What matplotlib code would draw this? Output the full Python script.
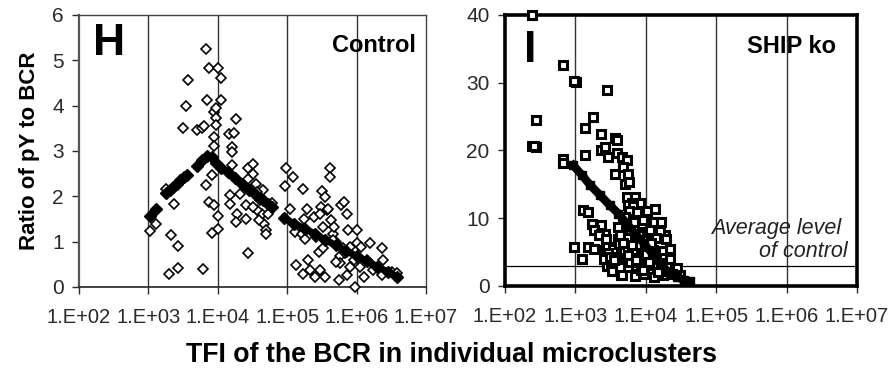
import numpy as np
import matplotlib
matplotlib.use('Agg')
import matplotlib.pyplot as plt

plt.rcParams['font.family'] = ['Liberation Sans', 'DejaVu Sans']

# ---- panel H (control): raw points, log10 of TFI and ratio
ctrl_logx = [3.02, 3.11, 3.30, 3.32, 3.37, 3.43, 3.43, 3.26, 3.57, 3.54, 3.50, 3.70, 3.77, 3.80,
             3.84, 3.83, 3.88, 4.00, 4.04, 4.04, 3.94, 3.97, 3.97, 3.97, 3.94, 3.95, 3.92, 3.83,
             3.88, 3.94, 4.00, 4.00, 3.92, 3.78, 4.43, 4.16, 4.24, 4.26, 4.21, 4.21, 4.20, 4.18,
             4.18, 4.27, 4.26, 4.41, 4.32, 4.40, 4.43, 4.50, 4.50, 4.49, 4.55, 4.61, 4.65, 4.63,
             4.56, 4.66, 4.70, 4.69, 4.60, 4.73, 4.78, 4.51, 4.57, 4.44,
             4.98, 5.08, 4.97, 5.04, 5.23, 5.11, 5.12, 5.21, 5.26, 5.28, 5.24, 5.30, 5.23, 5.33,
             5.38, 5.40, 5.42, 5.46, 5.49, 5.50, 5.47, 5.54, 5.57, 5.59, 5.52, 5.51, 5.54, 5.47,
             5.61, 5.61, 5.63, 5.66, 5.68, 5.71, 5.76, 5.76, 5.78, 5.82, 5.86, 5.83, 5.88, 5.90,
             5.74, 5.86, 5.97, 5.91, 5.96, 6.00, 6.01, 6.07, 6.10, 6.15, 6.19, 6.24, 6.36, 6.38,
             6.36, 6.51, 6.58, 6.05, 5.66, 5.80, 5.71]
ctrl_y = [1.24, 1.40, 0.28, 1.14, 1.84, 0.91, 0.42, 2.17, 4.57, 3.99, 3.50, 3.46, 3.50, 3.55,
          4.12, 5.26, 4.82, 4.82, 4.60, 4.12, 3.87, 3.94, 3.72, 3.57, 3.31, 3.11, 2.47, 2.25,
          1.88, 1.80, 1.56, 1.27, 1.20, 0.40, 0.74, 3.37, 3.40, 3.70, 3.09, 2.98, 2.69, 2.03,
          1.84, 1.62, 1.44, 1.51, 2.06, 1.80, 2.63, 2.71, 2.50, 2.17, 2.28, 1.91, 2.14, 1.62,
          1.69, 1.40, 1.25, 1.18, 1.47, 1.62, 1.86, 1.77, 2.10, 2.39,
          2.63, 2.43, 2.22, 1.72, 2.17, 1.21, 0.49, 1.18, 1.05, 1.71, 1.51, 0.59, 0.29, 0.38,
          1.55, 0.22, 1.10, 0.77, 1.77, 2.12, 1.62, 1.99, 1.69, 1.73, 1.33, 0.85, 0.22, 0.37,
          2.63, 2.43, 1.47, 1.18, 1.33, 0.99, 0.68, 0.52, 1.80, 1.88, 1.62, 0.74, 1.25, 0.88,
          0.15, 0.26, 0.00, 0.44, 0.59, 0.96, 1.25, 0.88, 0.22, 0.59, 0.98, 0.38, 0.87, 0.59,
          0.26, 0.33, 0.31, 0.44, 1.03, 0.85, 0.55]

# trend of panel H, drawn as filled diamonds, one list per piece
ctrl_tr_logx = [[3.02, 3.11],
                [3.26, 3.31, 3.36, 3.41, 3.46, 3.51, 3.56],
                [3.70, 3.77, 3.84, 3.91, 3.98, 4.04],
                [4.15, 4.25, 4.35, 4.45, 4.55, 4.65, 4.72, 4.78],
                [4.95, 5.10, 5.25, 5.40, 5.55, 5.70, 5.85, 6.00, 6.15, 6.30, 6.45, 6.58]]
ctrl_tr_y = [[1.56, 1.72],
             [2.07, 2.14, 2.21, 2.28, 2.35, 2.42, 2.48],
             [2.67, 2.80, 2.89, 2.86, 2.73, 2.62],
             [2.54, 2.40, 2.27, 2.15, 2.03, 1.91, 1.83, 1.77],
             [1.52, 1.40, 1.29, 1.17, 1.04, 0.92, 0.80, 0.68, 0.57, 0.45, 0.33, 0.23]]

# ---- panel I (SHIP ko)
ship_logx = [2.38, 2.44, 2.38, 2.44, 2.41, 2.83, 3.01, 2.98, 3.45, 2.83, 2.83, 3.14, 3.25, 3.13,
             3.36, 3.36, 3.42, 3.47, 3.56, 3.59, 3.59, 3.66, 3.73, 3.56, 3.68, 3.75, 3.71, 3.76,
             2.98, 3.10, 3.11, 3.18, 3.18, 3.26, 3.23, 3.36, 3.26, 3.37, 3.42, 3.33,
             4.13, 4.18, 4.27, 4.09, 3.73, 3.85, 3.80, 3.92, 3.75, 3.82, 3.76, 3.88, 4.01,
             3.68, 3.83, 3.96, 4.11, 4.21, 3.65, 3.78, 3.94, 4.06, 4.20,
             3.44, 3.60, 3.73, 3.88, 4.02, 4.15, 4.28,
             3.40, 3.54, 3.69, 3.82, 3.98, 4.10, 4.24, 4.35,
             3.42, 3.56, 3.70, 3.84, 3.96, 4.12, 4.26, 4.34,
             3.45, 3.58, 3.74, 3.86, 4.02, 4.16, 4.30, 4.44,
             3.65, 3.84, 3.97, 4.11, 4.25, 4.37, 4.49,
             3.45, 3.54, 3.47, 3.41, 3.50, 3.64, 3.66, 3.49, 3.59,
             3.62, 3.90, 4.05, 3.78, 3.52, 4.18, 3.93, 3.70,
             3.61, 3.68, 3.80, 3.91, 4.00, 3.75, 3.86, 4.08, 3.55, 3.96, 4.22, 3.64]
ship_y = [40.0, 24.5, 20.7, 20.5, 20.6, 32.6, 30.1, 30.2, 29.0, 18.8, 18.1, 23.3, 25.0, 19.3,
          22.5, 20.0, 20.5, 19.0, 21.9, 21.5, 19.6, 19.1, 18.6, 16.6, 17.6, 16.6, 15.1, 15.4,
          5.8, 4.0, 11.2, 10.9, 5.8, 5.5, 9.2, 9.0, 8.2, 7.7, 7.7, 7.5,
          11.4, 9.5, 7.5, 9.5, 13.2, 13.2, 12.2, 12.2, 12.0, 11.8, 11.0, 10.9, 11.1,
          9.6, 9.4, 9.7, 9.5, 9.4, 8.1, 8.3, 8.0, 8.2, 8.1,
          7.0, 6.9, 7.1, 7.0, 6.8, 7.1, 7.0,
          5.3, 5.4, 5.2, 5.3, 5.5, 5.3, 5.2, 5.4,
          4.1, 4.0, 4.2, 4.1, 4.0, 4.2, 4.1, 4.0,
          2.9, 3.0, 2.8, 2.9, 3.1, 2.9, 2.8, 2.6,
          1.6, 1.5, 1.8, 1.4, 1.6, 1.8, 1.6,
          5.8, 5.5, 4.8, 4.0, 3.3, 2.8, 1.6, 4.3, 4.0,
          6.2, 6.0, 3.5, 3.6, 2.2, 2.1, 2.3, 10.2,
          8.7, 6.4, 6.1, 7.6, 4.7, 4.6, 3.9, 6.3, 3.8, 2.3, 3.4, 7.6]

ship_tr_logx = [2.97, 3.09, 3.21, 3.35, 3.49, 3.61, 3.73, 3.85, 3.97, 4.09, 4.20, 4.32, 4.44,
                4.54, 4.63]
ship_tr_y = [17.8, 16.4, 14.9, 13.4, 11.9, 10.7, 9.2, 7.7, 6.3, 4.8, 3.3, 2.1, 1.3, 0.9, 0.7]

control_level = 3
tick_pos = [1e2, 1e3, 1e4, 1e5, 1e6, 1e7]
tick_lbl = ['1.E+02', '1.E+03', '1.E+04', '1.E+05', '1.E+06', '1.E+07']


def setup_axis(ax, yticks):
  ax.set_xscale('log')
  ax.set_xlim(1e2, 1e7)
  ax.set_xticks(tick_pos)
  ax.set_xticklabels(tick_lbl)
  ax.xaxis.set_minor_locator(matplotlib.ticker.NullLocator())
  ax.set_yticks(yticks)
  ax.set_ylim(yticks[0], yticks[-1])
  ax.tick_params(axis='x', length=5, width=1, pad=10, labelsize=14.5, colors='#2a2a2a')
  ax.tick_params(axis='y', length=5, width=1, pad=6, labelsize=15, colors='#2a2a2a')
  # vertical grid at every decade
  for x in tick_pos[1:-1]:
    ax.axvline(x, color='#333333', lw=1, zorder=1)


fig = plt.figure(figsize=(8.94, 3.72), dpi=100)

# panel H
ax1 = fig.add_axes([0.0884, 0.2285, 0.3881, 0.7312])
setup_axis(ax1, [0, 1, 2, 3, 4, 5, 6])
for sp in ['top', 'right']:
  ax1.spines[sp].set_color('#444444')
  ax1.spines[sp].set_linewidth(1)
ax1.spines['left'].set_color('#555555')
ax1.spines['left'].set_linewidth(1.6)
ax1.spines['bottom'].set_color('#222222')
ax1.spines['bottom'].set_linewidth(1.2)

ax1.plot(10 ** np.array(ctrl_logx), ctrl_y, 'D', ms=5, mfc='white', mec='black', mew=1.2,
         zorder=3, clip_on=False)
ax1.plot(10 ** np.array(ctrl_tr_logx[0]), ctrl_tr_y[0], 'D', ms=6, color='black', zorder=4)
for lx, ly in zip(ctrl_tr_logx[1:], ctrl_tr_y[1:]):
  ax1.plot(10 ** np.array(lx), ly, 'D-', ms=6, lw=5, color='black', zorder=4)

ax1.text(0.04, 0.97, 'H', transform=ax1.transAxes, fontsize=32, fontweight='bold',
         va='top', ha='left')
ax1.text(0.97, 0.93, 'Control', transform=ax1.transAxes, fontsize=17, fontweight='bold',
         va='top', ha='right')
ax1.set_ylabel('Ratio of pY to BCR', fontsize=16, fontweight='bold', labelpad=9)

# panel I
ax2 = fig.add_axes([0.5649, 0.2312, 0.3937, 0.7285])
setup_axis(ax2, [0, 10, 20, 30, 40])
for sp in ax2.spines.values():
  sp.set_color('black')
  sp.set_linewidth(2.6)

ax2.axhline(control_level, color='black', lw=0.9, zorder=2)
ax2.plot(10 ** np.array(ship_logx), ship_y, 's', ms=5.5, mfc='white', mec='black', mew=2.2,
         zorder=3, clip_on=False)
ax2.plot(10 ** np.array(ship_tr_logx), ship_tr_y, 's-', ms=6, lw=6, color='black', zorder=4)

ax2.text(0.055, 0.945, 'I', transform=ax2.transAxes, fontsize=32, fontweight='bold',
         va='top', ha='left')
ax2.text(0.94, 0.925, 'SHIP ko', transform=ax2.transAxes, fontsize=17, fontweight='bold',
         va='top', ha='right')
ax2.text(0.955, 0.175, 'Average level', transform=ax2.transAxes, fontsize=15.5,
         style='italic', color='#222222', ha='right', va='bottom')
ax2.text(0.972, 0.09, 'of control', transform=ax2.transAxes, fontsize=15.5,
         style='italic', color='#222222', ha='right', va='bottom')

fig.text(0.505, 0.045, 'TFI of the BCR in individual microclusters', fontsize=19.3,
         fontweight='bold', ha='center', va='center')

fig.savefig('out.png', dpi=100)
